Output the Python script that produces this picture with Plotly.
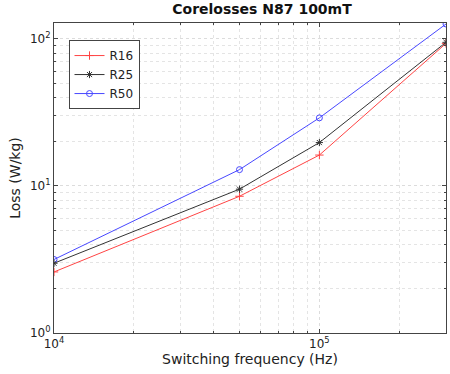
import plotly.graph_objects as go
import math

freq = [1e4, 5e4, 1e5, 3e5]
r16 = [2.6, 8.5, 16.2, 93]
r25 = [2.98, 9.5, 19.7, 94.6]
r50 = [3.16, 12.9, 29, 126]
series = [("R16", r16, "#ff4444", "cross-thin-open"),
          ("R25", r25, "#333333", "asterisk-open"),
          ("R50", r50, "#4848ff", "circle-open")]

fig = go.Figure()
for name, vals, col, sym in series:
    fig.add_trace(go.Scatter(x=freq, y=vals, name=name, mode="lines+markers",
                             line=dict(color=col, width=1),
                             marker=dict(symbol=sym, size=6, color=col,
                                         line=dict(color=col, width=1))))

xminor = [m * 10**e for e in (4, 5) for m in range(2, 10) if m * 10**e <= 3e5]
yminor = [m * 10**e for e in (0, 1, 2) for m in range(2, 10) if m * 10**e <= 128]

axis_common = dict(type="log", showline=True, linecolor="#444", linewidth=1, mirror="ticks",
                   ticks="inside", ticklen=4, tickcolor="#444",
                   showgrid=True, gridcolor="#dcdcdc", griddash="dot", zeroline=False,
                   tickfont=dict(size=12, color="#222"))

fig.update_layout(
    width=450, height=374,
    margin=dict(l=54, r=4, t=23, b=41),
    paper_bgcolor="white", plot_bgcolor="white",
    font=dict(family="DejaVu Sans", size=12, color="#222"),
    title=dict(text="<b>Corelosses N87 100mT</b>", x=262/450, xanchor="center", xref="container",
               y=0.99, yanchor="top", font=dict(size=14, color="#111")),
    xaxis=dict(**axis_common, range=[4, math.log10(3e5)],
               tickvals=[1e4, 1e5], ticktext=["10<sup>4</sup>", "10<sup>5</sup>"],
               minor=dict(tickvals=xminor, ticks="inside", ticklen=2, tickcolor="#444",
                          showgrid=True, gridcolor="#e4e4e4", griddash="dot"),
               title=dict(text="Switching frequency (Hz)", standoff=0, font=dict(size=14))),
    yaxis=dict(**axis_common, range=[0, math.log10(128)],
               tickvals=[1, 10, 100], ticktext=["10<sup>0</sup>", "10<sup>1</sup>", "10<sup>2</sup>"],
               minor=dict(tickvals=yminor, ticks="inside", ticklen=2, tickcolor="#444",
                          showgrid=True, gridcolor="#e4e4e4", griddash="dot"),
               title=dict(text="Loss (W/kg)", standoff=6, font=dict(size=14))),
    legend=dict(x=0.037, y=0.945, xanchor="left", yanchor="top",
                bordercolor="#444", borderwidth=1, bgcolor="white",
                font=dict(size=12), tracegroupgap=0, itemwidth=30),
    showlegend=True,
)

fig.write_html("out.html")
